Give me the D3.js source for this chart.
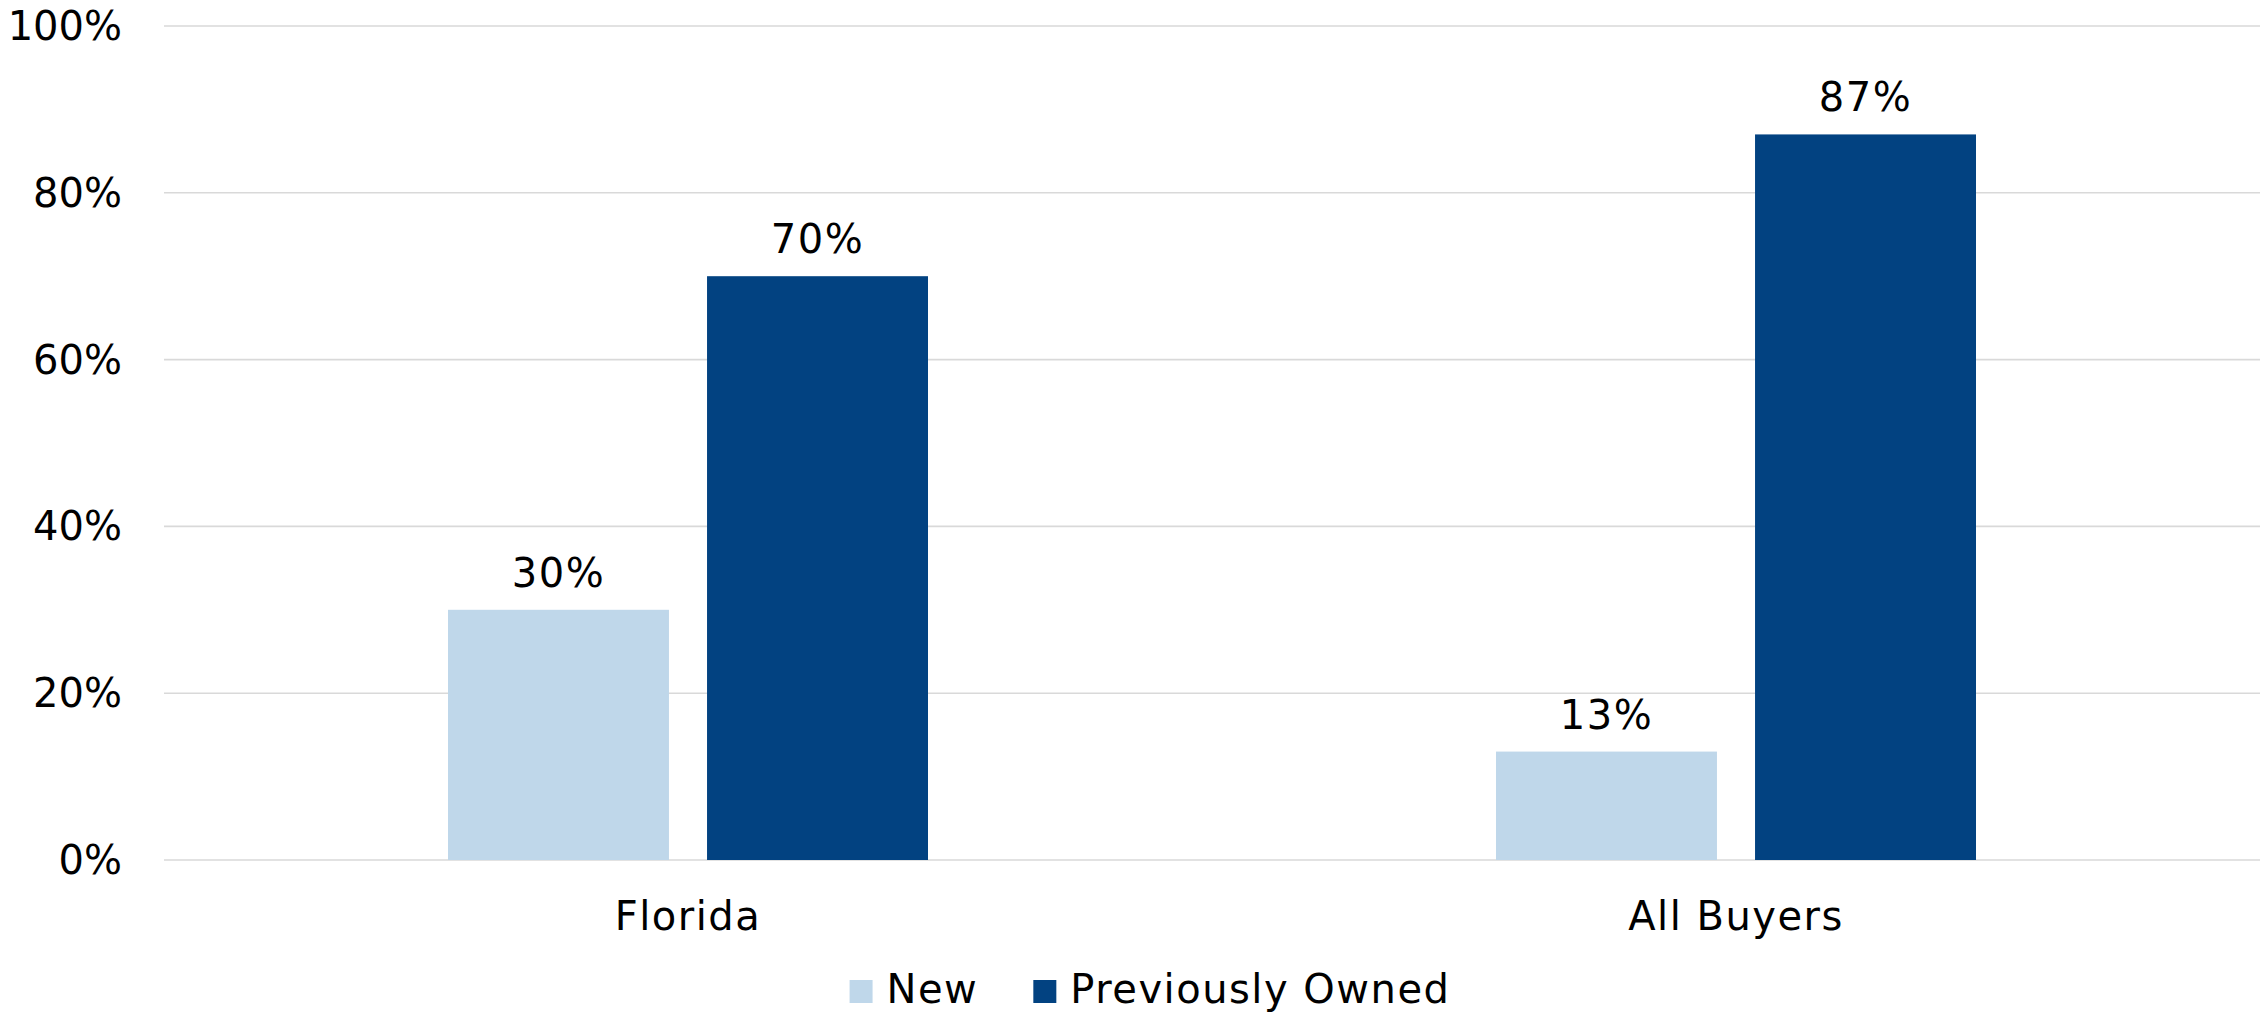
<!DOCTYPE html>
<html>
<head>
<meta charset="utf-8">
<script src="https://cdn.jsdelivr.net/npm/d3@7"></script>
<style>
  html, body { margin: 0; padding: 0; background: #fff; }
  svg text { font-family: "DejaVu Sans", sans-serif; fill: #000; letter-spacing: 1.5px; }
  svg text.tick { letter-spacing: 0; }
</style>
</head>
<body>
<svg id="chart" width="2267" height="1013"></svg>
<script>
const categories = ['Florida', 'All Buyers']
const seriesNames = ['New', 'Previously Owned']
const newValues = [30, 13]
const previouslyOwnedValues = [70, 87]
const yTicks = [0, 20, 40, 60, 80, 100]
const colors = ['#bfd7ea', '#024281']

const width = 2267
const height = 1013
const margin = { top: 26, right: 7, bottom: 153, left: 164 }
const fontSize = 40

const svg = d3.select('#chart')

const x0 = d3.scaleBand()
  .domain(categories)
  .range([margin.left, width - margin.right])

// bars sit in the middle of each band, 480px wide pair with a small gap
const groupWidth = x0.bandwidth() * 0.458
const x1 = d3.scaleBand()
  .domain(seriesNames)
  .range([(x0.bandwidth() - groupWidth) / 2, (x0.bandwidth() + groupWidth) / 2])
  .paddingInner(0.147)

const y = d3.scaleLinear()
  .domain([0, 100])
  .range([height - margin.bottom, margin.top])

// gridlines + tick labels
const yAxis = svg.append('g')
yAxis.selectAll('line')
  .data(yTicks)
  .join('line')
  .attr('x1', margin.left)
  .attr('x2', width - margin.right)
  .attr('y1', d => y(d))
  .attr('y2', d => y(d))
  .attr('stroke', '#d9d9d9')
  .attr('stroke-width', 1.6)

yAxis.selectAll('text')
  .data(yTicks)
  .join('text')
  .attr('class', 'tick')
  .attr('x', 122)
  .attr('y', d => y(d))
  .attr('dy', '0.35em')
  .attr('text-anchor', 'end')
  .style('font-size', `${fontSize}px`)
  .text(d => `${d}%`)

const rows = categories.map((c, i) => ({
  category: c,
  values: [newValues[i], previouslyOwnedValues[i]]
}))

const groups = svg.append('g')
  .selectAll('g')
  .data(rows)
  .join('g')
  .attr('transform', d => `translate(${x0(d.category)},0)`)

const bars = groups.selectAll('g')
  .data(d => d.values.map((v, i) => ({ series: seriesNames[i], value: v, color: colors[i] })))
  .join('g')

bars.append('rect')
  .attr('x', d => x1(d.series))
  .attr('width', x1.bandwidth())
  .attr('y', d => y(d.value))
  .attr('height', d => y(0) - y(d.value))
  .attr('fill', d => d.color)

bars.append('text')
  .attr('x', d => x1(d.series) + x1.bandwidth() / 2)
  .attr('y', d => y(d.value) - 23)
  .attr('text-anchor', 'middle')
  .style('font-size', `${fontSize}px`)
  .text(d => `${d.value}%`)

// category labels
svg.append('g')
  .selectAll('text')
  .data(categories)
  .join('text')
  .attr('x', d => x0(d) + x0.bandwidth() / 2)
  .attr('y', 930)
  .attr('text-anchor', 'middle')
  .style('font-size', `${fontSize}px`)
  .text(d => d)

// legend
const legend = svg.append('g')
const swatch = 23
let cursor = 0
seriesNames.forEach((name, i) => {
  const item = legend.append('g').attr('transform', `translate(${cursor},0)`)
  item.append('rect')
    .attr('x', 0)
    .attr('y', -swatch)
    .attr('width', swatch)
    .attr('height', swatch)
    .attr('fill', colors[i])
  const label = item.append('text')
    .attr('x', swatch + 14)
    .attr('y', 0)
    .style('font-size', `${fontSize}px`)
    .text(name)
  cursor += swatch + 14 + label.node().getComputedTextLength() + 55
})
const legendWidth = cursor - 55
legend.attr('transform', `translate(${1150 - legendWidth / 2},1003)`)
</script>
</body>
</html>
